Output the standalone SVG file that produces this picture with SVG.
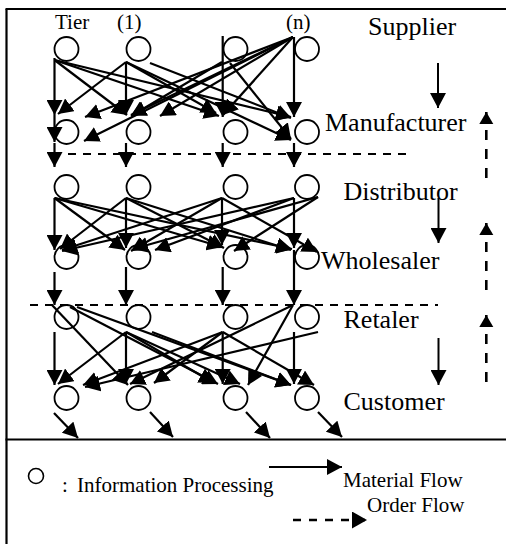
<svg xmlns="http://www.w3.org/2000/svg" width="506" height="544" viewBox="0 0 506 544">
<style>
.fr{stroke:#000;stroke-width:2.2;fill:none}
.nd{fill:none;stroke:#000;stroke-width:1.8}
.c{stroke:#000;stroke-width:2.2;fill:none;marker-end:url(#ah)}
.dh{stroke:#000;stroke-width:2;fill:none;stroke-dasharray:8,7}
.rd{stroke:#000;stroke-width:2;fill:none;marker-end:url(#ah)}
.ru{stroke:#000;stroke-width:2.6;fill:none;stroke-dasharray:10,9;marker-end:url(#au)}
.st{font-family:"Liberation Serif","Times New Roman",serif;font-size:26px;fill:#000}
.tr{font-family:"Liberation Serif","Times New Roman",serif;font-size:21px;fill:#000}
.lg{font-family:"Liberation Serif","Times New Roman",serif;font-size:21px;fill:#000}
</style>
<defs>
<marker id="ah" markerUnits="userSpaceOnUse" markerWidth="16" markerHeight="16" refX="15" refY="8" orient="auto"><path d="M0,0 L15,8 L0,16 z" fill="#000" stroke="none"/></marker>
<marker id="au" markerUnits="userSpaceOnUse" markerWidth="13" markerHeight="15" refX="12" refY="7" orient="auto"><path d="M0,0 L12,7 L0,14 z" fill="#000" stroke="none"/></marker>
<marker id="al" markerUnits="userSpaceOnUse" markerWidth="16" markerHeight="18" refX="15" refY="8.5" orient="auto"><path d="M0,0 L15,8.5 L0,17 z" fill="#000" stroke="none"/></marker>
</defs>
<rect width="506" height="544" fill="#fff"/>
<g id="frame">
<line class="fr" x1="6.5" y1="9" x2="6.5" y2="544"/>
<line class="fr" x1="5.5" y1="9" x2="506" y2="9"/>
<line class="fr" x1="5.5" y1="439.5" x2="506" y2="439.5"/>
</g>
<g id="tier-labels">
<text class="tr" x="55" y="29">Tier</text>
<text class="tr" x="117" y="29">(1)</text>
<text class="tr" x="286" y="29">(n)</text>
</g>
<g id="supplier"><circle class="nd" cx="66.5" cy="49" r="12"/><circle class="nd" cx="138.5" cy="49" r="12"/><circle class="nd" cx="235.5" cy="49" r="12"/><circle class="nd" cx="307" cy="49" r="12"/><text class="st" x="368" y="35">Supplier</text></g>
<g id="manufacturer"><circle class="nd" cx="66.5" cy="132" r="12"/><circle class="nd" cx="138.5" cy="132" r="12"/><circle class="nd" cx="235.5" cy="132" r="12"/><circle class="nd" cx="307" cy="132" r="12"/><text class="st" x="325" y="131">Manufacturer</text></g>
<g id="distributor"><circle class="nd" cx="66.5" cy="187" r="12"/><circle class="nd" cx="138.5" cy="187" r="12"/><circle class="nd" cx="235.5" cy="187" r="12"/><circle class="nd" cx="307" cy="187" r="12"/><text class="st" x="343.5" y="200">Distributor</text></g>
<g id="wholesaler"><circle class="nd" cx="66.5" cy="257" r="12"/><circle class="nd" cx="138.5" cy="257" r="12"/><circle class="nd" cx="235.5" cy="257" r="12"/><circle class="nd" cx="307" cy="257" r="12"/><text class="st" x="321" y="269">Wholesaler</text></g>
<g id="retaler"><circle class="nd" cx="66.5" cy="317" r="12"/><circle class="nd" cx="138.5" cy="317" r="12"/><circle class="nd" cx="235.5" cy="317" r="12"/><circle class="nd" cx="307" cy="317" r="12"/><text class="st" x="343.5" y="328">Retaler</text></g>
<g id="customer"><circle class="nd" cx="66.5" cy="398" r="12"/><circle class="nd" cx="138.5" cy="398" r="12"/><circle class="nd" cx="235.5" cy="398" r="12"/><circle class="nd" cx="307" cy="398" r="12"/><text class="st" x="343.5" y="410">Customer</text></g>
<g id="connectors">
<!-- section A -->
<line class="c" x1="54.5" y1="58" x2="54.5" y2="115"/>
<line class="c" x1="54.5" y1="115" x2="54.5" y2="142"/>
<line class="c" x1="54.5" y1="60" x2="127" y2="115"/>
<line class="c" x1="54.5" y1="60" x2="219" y2="116"/>
<line class="c" x1="54.5" y1="60" x2="291" y2="117"/>
<line class="c" x1="126" y1="62" x2="126" y2="115"/>
<line class="c" x1="126" y1="62" x2="58" y2="114"/>
<line class="c" x1="126" y1="62" x2="216" y2="113"/>
<line class="c" x1="126" y1="62" x2="291" y2="140"/>
<line class="c" x1="150" y1="63" x2="291" y2="118"/>
<line class="c" x1="222.7" y1="36" x2="222.7" y2="117"/>
<line class="c" x1="222" y1="62" x2="131" y2="116"/>
<line class="c" x1="230" y1="63" x2="291" y2="139"/>
<line class="c" x1="294" y1="37" x2="294" y2="117"/>
<line class="c" x1="293" y1="37" x2="223" y2="115"/>
<line class="c" x1="293" y1="37" x2="160" y2="116"/>
<line class="c" x1="293" y1="37" x2="131" y2="115"/>
<line class="c" x1="293" y1="37" x2="85" y2="117"/>
<line class="c" x1="293" y1="37" x2="84" y2="141"/>
<!-- row2 to row3 -->
<line class="c" x1="54.5" y1="143" x2="54.5" y2="167"/>
<line class="c" x1="126" y1="143" x2="126" y2="167"/>
<line class="c" x1="222.7" y1="143" x2="222.7" y2="167"/>
<line class="c" x1="294" y1="143" x2="294" y2="167"/>
<!-- section B -->
<line class="c" x1="54.5" y1="198" x2="54.5" y2="250"/>
<line class="c" x1="54.5" y1="198" x2="125" y2="250"/>
<line class="c" x1="54.5" y1="198" x2="222" y2="247"/>
<line class="c" x1="54.5" y1="198" x2="292" y2="249"/>
<line class="c" x1="126" y1="198" x2="126" y2="248"/>
<line class="c" x1="126" y1="198" x2="60" y2="249"/>
<line class="c" x1="126" y1="198" x2="224" y2="248"/>
<line class="c" x1="126" y1="198" x2="291" y2="250"/>
<line class="c" x1="222" y1="198" x2="222" y2="245"/>
<line class="c" x1="222" y1="198" x2="62" y2="250"/>
<line class="c" x1="222" y1="198" x2="131" y2="251"/>
<line class="c" x1="222" y1="198" x2="317" y2="252"/>
<line class="c" x1="294" y1="198" x2="294" y2="248"/>
<line class="c" x1="294" y1="198" x2="62" y2="251"/>
<line class="c" x1="294" y1="198" x2="155" y2="250"/>
<line class="c" x1="318" y1="197" x2="234" y2="251"/>
<line class="c" x1="318" y1="197" x2="133" y2="249"/>
<!-- row4 to row5 -->
<line class="c" x1="54.5" y1="272" x2="54.5" y2="305"/>
<line class="c" x1="126" y1="267" x2="126" y2="305"/>
<line class="c" x1="222.7" y1="267" x2="222.7" y2="305"/>
<line class="c" x1="294" y1="250" x2="294" y2="305"/>
<!-- section C -->
<line class="c" x1="54.5" y1="332" x2="54.5" y2="385"/>
<line class="c" x1="52" y1="305" x2="128" y2="385"/>
<line class="c" x1="70" y1="307" x2="218" y2="384"/>
<line class="c" x1="77" y1="307" x2="291" y2="385"/>
<line class="c" x1="126" y1="332" x2="126" y2="384"/>
<line class="c" x1="126" y1="332" x2="58" y2="384"/>
<line class="c" x1="126" y1="332" x2="214" y2="383"/>
<line class="c" x1="126" y1="332" x2="240" y2="384"/>
<line class="c" x1="152" y1="332" x2="291" y2="385"/>
<line class="c" x1="222.7" y1="332" x2="222.7" y2="384"/>
<line class="c" x1="222.7" y1="332" x2="83" y2="385"/>
<line class="c" x1="222.7" y1="332" x2="154" y2="383"/>
<line class="c" x1="222.7" y1="332" x2="314" y2="385"/>
<line class="c" x1="293" y1="305" x2="248" y2="385"/>
<line class="c" x1="293" y1="305" x2="130" y2="384"/>
<line class="c" x1="294" y1="332" x2="294" y2="384"/>
<line class="c" x1="318" y1="332" x2="85" y2="387"/>
<!-- to outside -->
<line class="c" x1="54" y1="413" x2="78" y2="438"/>
<line class="c" x1="150" y1="412" x2="173" y2="437"/>
<line class="c" x1="246" y1="412" x2="270" y2="438"/>
<line class="c" x1="318" y1="412" x2="342" y2="437"/>
<!-- dashed separators -->
<line class="dh" x1="53" y1="154" x2="411" y2="154"/>
<line class="dh" x1="30" y1="305" x2="438" y2="305"/>
<!-- side flow arrows -->
<line class="rd" x1="438" y1="63" x2="438" y2="108"/>
<line class="rd" x1="438.5" y1="198" x2="438.5" y2="243"/>
<line class="rd" x1="438.5" y1="338" x2="438.5" y2="385"/>
<line class="ru" x1="486.3" y1="178" x2="486.3" y2="112"/>
<line class="ru" x1="486.3" y1="290" x2="486.3" y2="223"/>
<line class="ru" x1="486.3" y1="382" x2="486.3" y2="315"/>
</g>
<g id="legend">
<circle cx="36" cy="476" r="7.5" fill="none" stroke="#000" stroke-width="1.6"/>
<text class="lg" x="62" y="492">:<tspan x="77">Information Processing</tspan></text>
<line x1="269" y1="467" x2="342" y2="467" stroke="#000" stroke-width="2.2" marker-end="url(#ah)"/>
<text class="lg" x="343" y="487">Material Flow</text>
<line x1="293" y1="520" x2="367" y2="520" stroke="#000" stroke-width="2.4" stroke-dasharray="8,8" marker-end="url(#al)"/>
<text class="lg" x="367" y="512">Order Flow</text>
</g>
</svg>
